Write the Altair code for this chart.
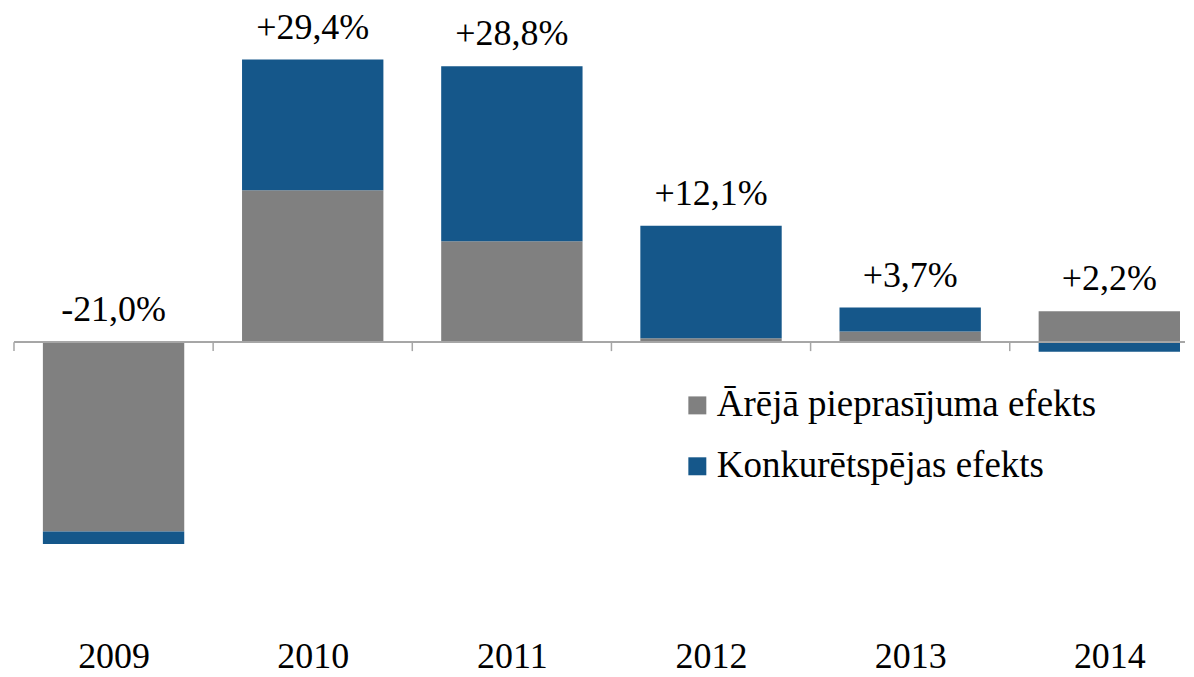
import altair as alt
import pandas as pd

years = [2009, 2010, 2011, 2012, 2013, 2014]
series_names = ["Ārējā pieprasījuma efekts", "Konkurētspējas efekts"]
arejais = [-19.7, 15.8, 10.5, 0.4, 1.1, 3.2]
konkur = [-1.3, 13.6, 18.2, 11.7, 2.5, -1.0]
total_labels = ["-21,0%", "+29,4%", "+28,8%", "+12,1%", "+3,7%", "+2,2%"]
colors = ["#808080", "#15578A"]

rows = []
for i, yr in enumerate(years):
    rows.append({"year": yr, "series": series_names[0], "value": arejais[i], "ord": 0})
    rows.append({"year": yr, "series": series_names[1], "value": konkur[i], "ord": 1})
bars_df = pd.DataFrame(rows)

label_df = pd.DataFrame({
    "year": years,
    "label": total_labels,
    "pos": [max(0.0, max(a, 0) + max(k, 0)) for a, k in zip(arejais, konkur)],
})
years_df = pd.DataFrame({"year": years, "z": [0] * len(years)})

FONT = '"Liberation Serif", "Times New Roman", Times, serif'

x_scale = alt.Scale(domain=[2008.5, 2014.38], nice=False, zero=False, padding=0)
x_axis = alt.Axis(title=None, domain=False, ticks=False, grid=False,
                  values=years, format="d",
                  labelFontSize=36, labelFont=FONT, labelColor="black",
                  labelAngle=0, labelPadding=9, labelFlush=False, labelOverlap=False)
y_scale = alt.Scale(domain=[-30, 34.7], nice=False, zero=False)

bars = alt.Chart(bars_df).mark_bar(width=141.6).encode(
    x=alt.X("year:Q", scale=x_scale, axis=x_axis),
    y=alt.Y("value:Q", stack="zero", scale=y_scale, axis=None),
    color=alt.Color("series:N", scale=alt.Scale(domain=series_names, range=colors),
                    legend=alt.Legend(title=None, orient="none", legendX=666, legendY=379,
                                      symbolType="square", symbolSize=324,
                                      symbolStrokeWidth=0, labelFontSize=37,
                                      labelFont=FONT, labelColor="black",
                                      labelOffset=1, rowPadding=23, padding=0,
                                      labelLimit=0)),
    order=alt.Order("ord:Q"),
)

zero_line = alt.Chart(years_df).mark_rule(color="#A6A6A6", strokeWidth=1.5).encode(
    y=alt.Y("z:Q", scale=y_scale, axis=None),
    x=alt.value(0),
    x2=alt.value(1173),
)

ticks = alt.Chart(years_df).transform_calculate(
    b="datum.year - 0.5"
).mark_rule(color="#A6A6A6", strokeWidth=1.5, y2Offset=9).encode(
    x=alt.X("b:Q", scale=x_scale, axis=x_axis),
    y=alt.Y("z:Q", scale=y_scale, axis=None),
    y2="z:Q",
)

labels = alt.Chart(label_df).mark_text(
    dy=-21, baseline="alphabetic", fontSize=36, font=FONT, color="black"
).encode(
    x=alt.X("year:Q", scale=x_scale, axis=x_axis),
    y=alt.Y("pos:Q", scale=y_scale, axis=None),
    text="label:N",
)

chart = alt.layer(bars, zero_line, ticks, labels).properties(
    width=1173, height=623,
    padding={"left": 5, "top": 0, "right": 0, "bottom": 0},
    background="white",
).configure_view(stroke=None)

chart.save("out.html", embed_options={"renderer": "svg", "actions": False})
